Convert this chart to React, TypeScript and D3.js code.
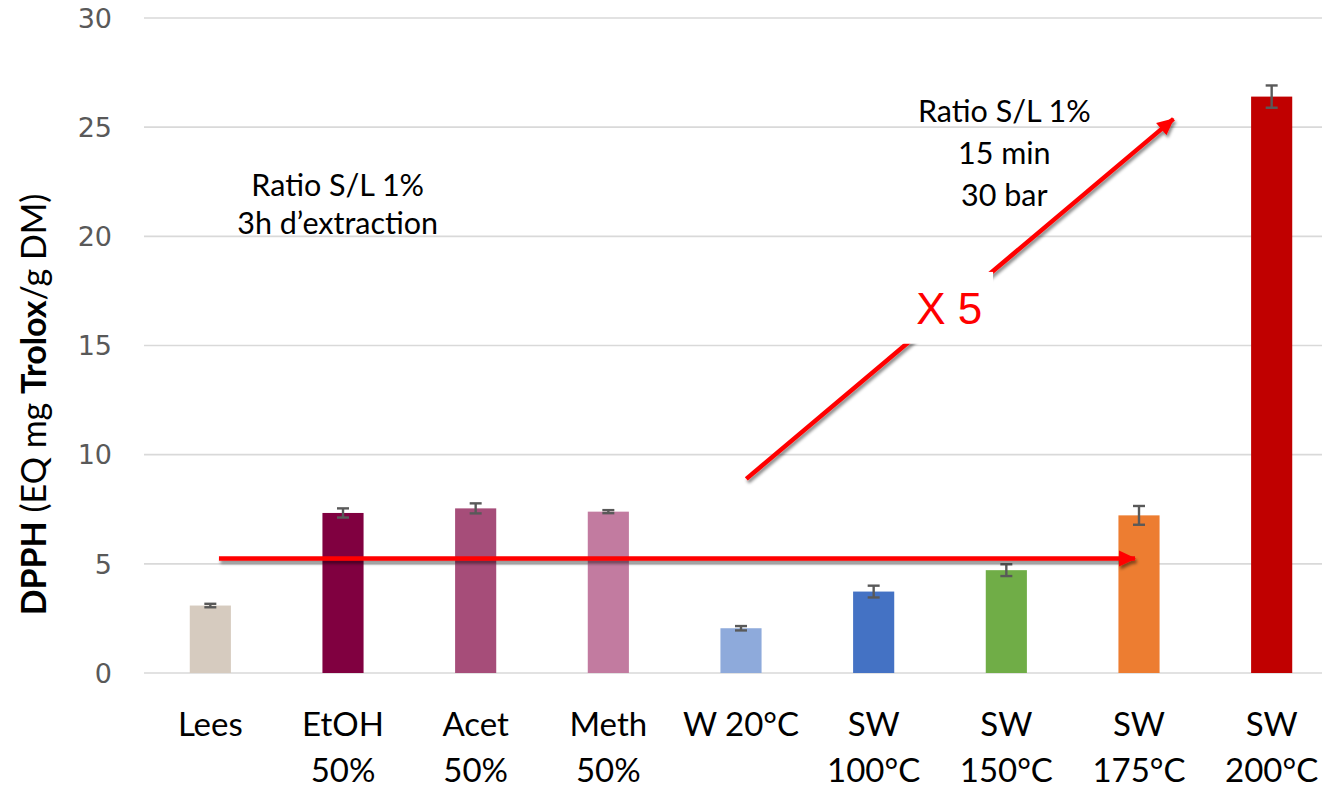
import React from "react";
import * as d3 from "d3";

// Extraction conditions (two-line tick labels split on "|")
const categories = ["Lees", "EtOH|50%", "Acet|50%", "Meth|50%", "W 20°C", "SW|100°C", "SW|150°C", "SW|175°C", "SW|200°C"];
// DPPH activity, mg Trolox equivalent / g dry matter
const values = [3.09, 7.33, 7.54, 7.39, 2.05, 3.73, 4.71, 7.22, 26.4];
// Standard deviations
const errors = [0.08, 0.21, 0.23, 0.07, 0.1, 0.27, 0.27, 0.43, 0.51];
const colors = ["#d6cbbf", "#800040", "#a64d79", "#c27ba0", "#8eaadb", "#4472c4", "#70ad47", "#ed7d31", "#c00000"];
const yTicks = [0, 5, 10, 15, 20, 25, 30];

const leftNote = ["Ratio S/L 1%", "3h d\u2019extraction"];
const rightNote = ["Ratio S/L 1%", "15 min", "30 bar"];

const W = 1322;
const H = 789;
const LABEL_FONT = "Lato, 'Open Sans', sans-serif";

export default function App() {
  const x = d3
    .scaleBand<string>()
    .domain(categories)
    .range([144, 1338])
    .paddingInner(0.69)
    .paddingOuter(0.345);
  const y = d3.scaleLinear().domain([0, 30]).range([673, 18]);
  // continuous category-index scale for annotations placed between bars
  const c0 = (x(categories[0]) ?? 0) + x.bandwidth() / 2;
  const idx = d3.scaleLinear().domain([0, 1]).range([c0, c0 + x.step()]);

  const bw = x.bandwidth();

  return (
    <svg
      width={W}
      height={H}
      style={{ position: "absolute", left: 0, top: 0, background: "#fff" }}
    >
      <defs>
        <filter id="shadow" x="-20%" y="-20%" width="140%" height="160%">
          <feDropShadow dx="1.5" dy="3" stdDeviation="1.6" floodColor="#000" floodOpacity="0.45" />
        </filter>
        <marker
          id="head"
          markerUnits="userSpaceOnUse"
          markerWidth="20"
          markerHeight="20"
          viewBox="0 0 20 20"
          refX="16"
          refY="10"
          orient="auto"
        >
          <path d="M0,2 L17,10 L0,18 Z" fill="#ff0000" />
        </marker>
      </defs>

      {/* gridlines */}
      {yTicks.map((t) => (
        <line key={t} x1={144} x2={W} y1={y(t)} y2={y(t)} stroke="#d9d9d9" strokeWidth={1.6} />
      ))}

      {/* y tick labels */}
      {yTicks.map((t) => (
        <text
          key={"l" + t}
          x={112}
          y={y(t)}
          dy="0.36em"
          textAnchor="end"
          fontFamily="'DejaVu Sans', sans-serif"
          fontSize={27}
          fill="#595959"
        >
          {t}
        </text>
      ))}

      {/* y axis title */}
      <text
        transform={`translate(46, ${y(12.3)}) rotate(-90)`}
        textAnchor="middle"
        fontFamily={LABEL_FONT}
        fontSize={34}
        fill="#000"
      >
        <tspan fontWeight="bold">DPPH</tspan>
        <tspan> (EQ mg </tspan>
        <tspan fontWeight="bold">Trolox</tspan>
        <tspan>/g DM)</tspan>
      </text>

      {/* bars */}
      {categories.map((c, i) => (
        <rect
          key={c}
          x={x(c)}
          y={y(values[i])}
          width={bw}
          height={y(0) - y(values[i])}
          fill={colors[i]}
        />
      ))}

      {/* error bars */}
      {categories.map((c, i) => {
        const cx = (x(c) ?? 0) + bw / 2;
        const top = y(values[i] + errors[i]);
        const bot = y(values[i] - errors[i]);
        return (
          <g key={"e" + c} stroke="#595959" strokeWidth={2.4}>
            <line x1={cx} x2={cx} y1={top} y2={bot} />
            <line x1={cx - 6} x2={cx + 6} y1={top} y2={top} />
            <line x1={cx - 6} x2={cx + 6} y1={bot} y2={bot} />
          </g>
        );
      })}

      {/* x tick labels */}
      {categories.map((c) => {
        const cx = (x(c) ?? 0) + bw / 2;
        const lines = c.split("|");
        return (
          <text
            key={"x" + c}
            x={cx}
            y={736}
            textAnchor="middle"
            fontFamily={LABEL_FONT}
            fontSize={33}
            fill="#000"
          >
            {lines.map((ln, k) => (
              <tspan key={k} x={cx} y={736 + k * 46}>
                {ln}
              </tspan>
            ))}
          </text>
        );
      })}

      {/* red arrows */}
      <g filter="url(#shadow)">
        <line
          x1={idx(0.065)}
          x2={idx(6.97)}
          y1={y(5.25)}
          y2={y(5.25)}
          stroke="#ff0000"
          strokeWidth={4.5}
          markerEnd="url(#head)"
        />
        <line
          x1={idx(4.04)}
          x2={idx(7.26)}
          y1={y(8.89)}
          y2={y(25.38)}
          stroke="#ff0000"
          strokeWidth={4.5}
          markerEnd="url(#head)"
        />
      </g>

      {/* "X 5" label box */}
      <rect
        x={idx(5.2)}
        y={y(18.37)}
        width={idx(5.9) - idx(5.2)}
        height={y(15.08) - y(18.37)}
        fill="#fff"
      />
      <text
        x={idx(5.57)}
        y={y(15.99)}
        textAnchor="middle"
        fontFamily="'Liberation Sans', Arial, sans-serif"
        fontSize={44}
        fill="#ff0000"
      >
        X 5
      </text>

      {/* condition notes */}
      <text textAnchor="middle" fontFamily={LABEL_FONT} fontSize={30.5} fill="#000">
        {leftNote.map((t, k) => (
          <tspan key={k} x={idx(0.96)} y={y(21.85) + k * 38}>
            {t}
          </tspan>
        ))}
      </text>
      <text textAnchor="middle" fontFamily={LABEL_FONT} fontSize={30.5} fill="#000">
        {rightNote.map((t, k) => (
          <tspan key={k} x={idx(5.985)} y={y(25.25) + k * 42}>
            {t}
          </tspan>
        ))}
      </text>
    </svg>
  );
}
